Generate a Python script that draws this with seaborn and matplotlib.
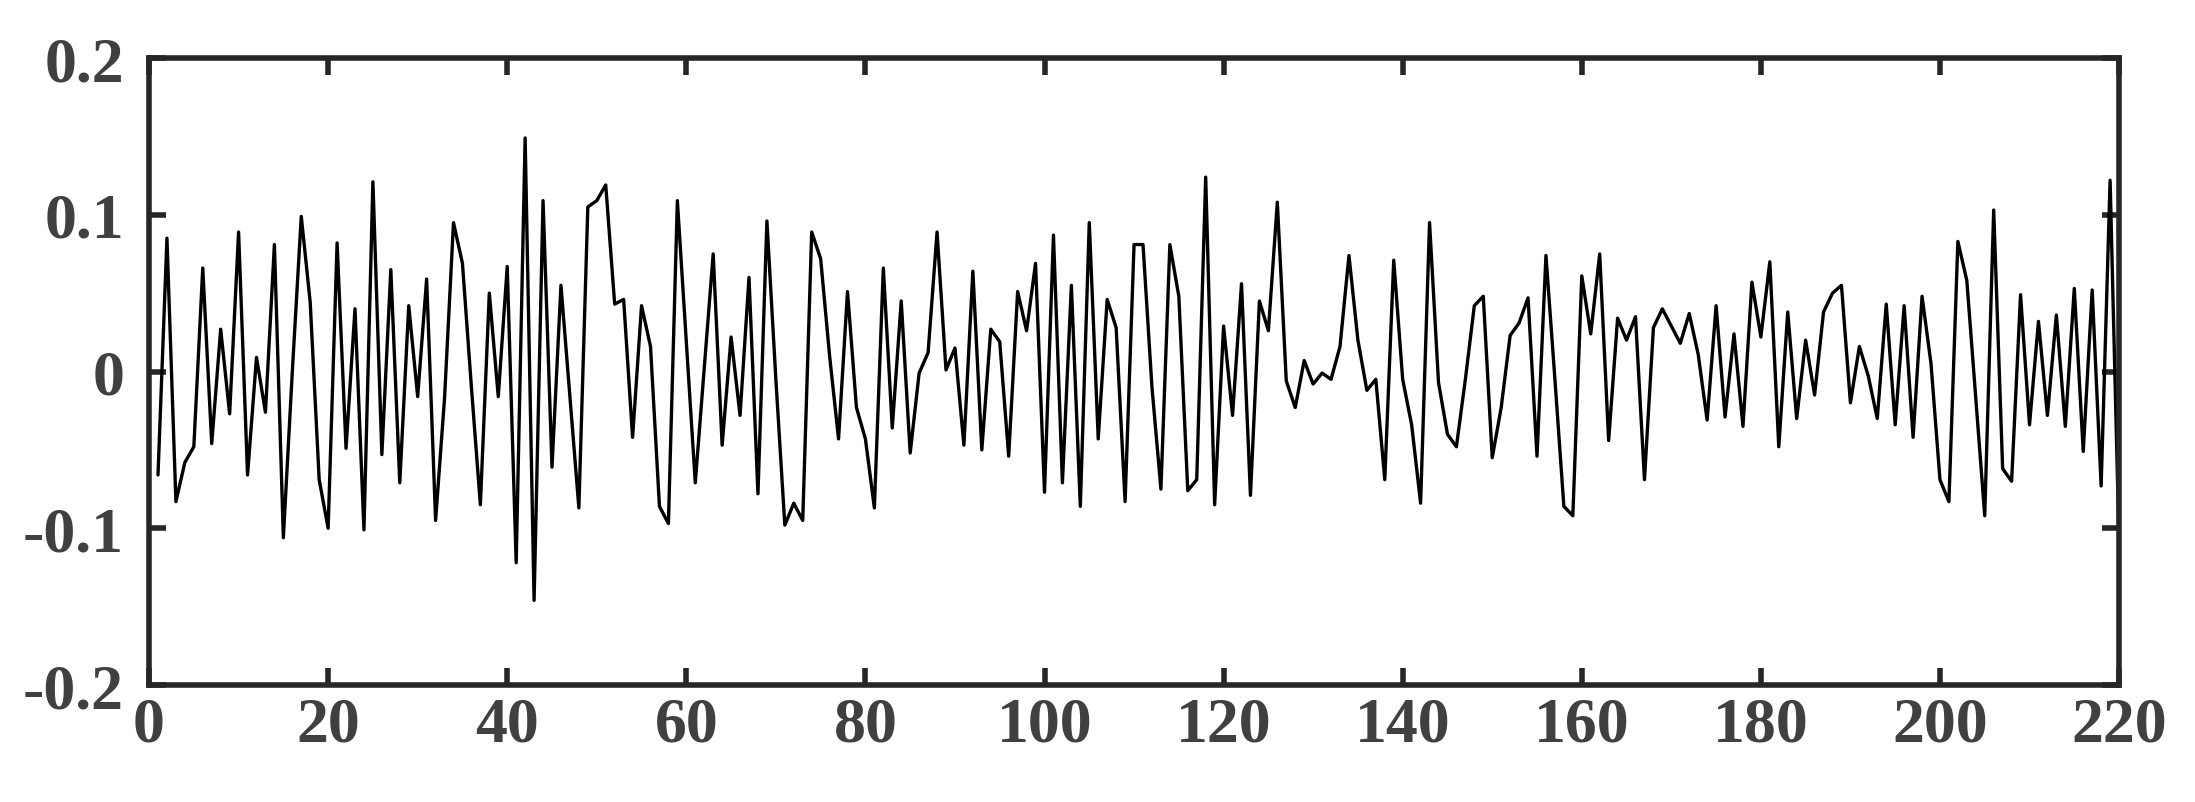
import numpy as np
import pandas as pd
import matplotlib
matplotlib.use("Agg")
import matplotlib.pyplot as plt
import seaborn as sns

# sample index 1..220 and the signal values
idx = list(range(1, 221))
signal = [
    -0.066, 0.085, -0.083, -0.058, -0.048, 0.066, -0.046, 0.027, -0.027, 0.089,
    -0.066, 0.009, -0.026, 0.081, -0.106, 0.000, 0.099, 0.044, -0.069, -0.100,
    0.082, -0.049, 0.040, -0.101, 0.121, -0.053, 0.065, -0.071, 0.042, -0.016,
    0.059, -0.095, -0.017, 0.095, 0.069, -0.010, -0.085, 0.050, -0.016, 0.067,
    -0.122, 0.149, -0.146, 0.109, -0.061, 0.055, -0.016, -0.087, 0.105, 0.109,
    0.119, 0.043, 0.046, -0.042, 0.042, 0.016, -0.086, -0.097, 0.109, 0.019,
    -0.071, 0.002, 0.075, -0.047, 0.022, -0.028, 0.060, -0.078, 0.096, -0.005,
    -0.098, -0.084, -0.095, 0.089, 0.072, 0.010, -0.043, 0.051, -0.023, -0.043,
    -0.087, 0.066, -0.036, 0.045, -0.052, -0.001, 0.012, 0.089, 0.001, 0.015,
    -0.047, 0.064, -0.050, 0.027, 0.019, -0.054, 0.051, 0.026, 0.069, -0.077,
    0.087, -0.071, 0.055, -0.086, 0.095, -0.043, 0.046, 0.028, -0.083, 0.081,
    0.081, -0.010, -0.075, 0.081, 0.048, -0.076, -0.069, 0.124, -0.085, 0.029,
    -0.028, 0.056, -0.079, 0.045, 0.026, 0.108, -0.006, -0.023, 0.007, -0.008,
    -0.001, -0.005, 0.016, 0.074, 0.020, -0.012, -0.005, -0.069, 0.071, -0.005,
    -0.034, -0.084, 0.095, -0.007, -0.040, -0.048, -0.005, 0.042, 0.048, -0.055,
    -0.023, 0.023, 0.031, 0.047, -0.054, 0.074, -0.005, -0.086, -0.092, 0.061,
    0.024, 0.075, -0.044, 0.034, 0.020, 0.035, -0.069, 0.028, 0.040, 0.029,
    0.018, 0.037, 0.011, -0.031, 0.042, -0.029, 0.024, -0.035, 0.057, 0.022,
    0.070, -0.048, 0.038, -0.030, 0.020, -0.015, 0.038, 0.050, 0.055, -0.020,
    0.016, -0.003, -0.030, 0.043, -0.034, 0.042, -0.042, 0.048, 0.005, -0.069,
    -0.083, 0.083, 0.058, -0.017, -0.092, 0.103, -0.062, -0.070, 0.049, -0.034,
    0.032, -0.028, 0.036, -0.035, 0.053, -0.051, 0.052, -0.073, 0.122, -0.110,
]

xticks = [0, 20, 40, 60, 80, 100, 120, 140, 160, 180, 200, 220]
yticks = [-0.2, -0.1, 0, 0.1, 0.2]
ytick_labels = ["-0.2", "-0.1", "0", "0.1", "0.2"]

df = pd.DataFrame({"n": idx, "value": signal})

sns.set_style("ticks")
plt.rcParams["font.family"] = ["Liberation Serif", "DejaVu Serif"]

fig = plt.figure(figsize=(21.95, 8.03), dpi=100)
ax = fig.add_axes([0.0679, 0.1457, 0.8975, 0.7808])

sns.lineplot(data=df, x="n", y="value", color="black", linewidth=2.4, ax=ax)

ax.set_xlim(0, 220)
ax.set_ylim(-0.2, 0.2)
ax.set_xticks(xticks)
ax.set_xticklabels([str(t) for t in xticks])
ax.set_yticks(yticks)
ax.set_yticklabels(ytick_labels)
ax.set_xlabel("")
ax.set_ylabel("")

for s in ax.spines.values():
    s.set_visible(True)
    s.set_linewidth(4)
    s.set_color("#262626")

ax.tick_params(axis="both", which="major", direction="in", length=12, width=4,
               color="#262626", top=True, right=True, labelsize=46,
               labelcolor="#404040")
ax.tick_params(axis="x", pad=8)
ax.tick_params(axis="y", pad=18)
for lab in ax.get_xticklabels() + ax.get_yticklabels():
    lab.set_fontweight("bold")

fig.savefig("out.png", dpi=100)
